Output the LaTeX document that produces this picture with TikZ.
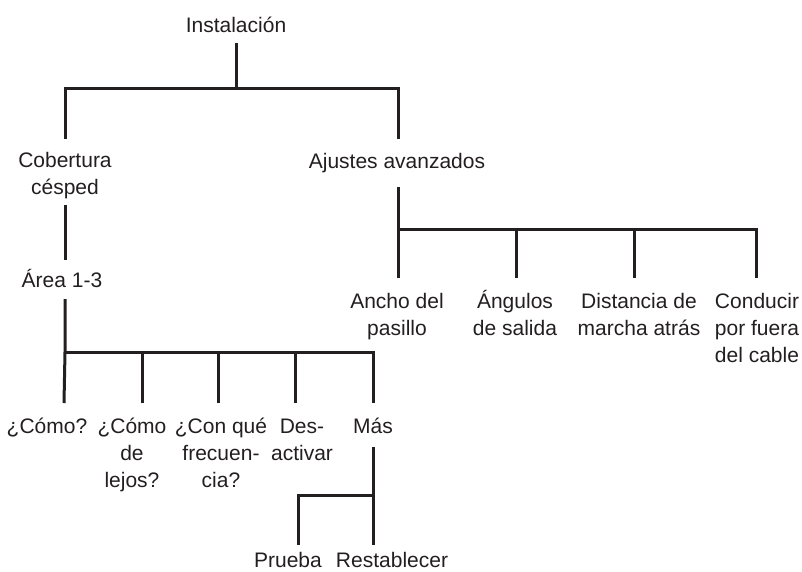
\documentclass[tikz,border=0pt]{standalone}
\usepackage{fontspec}
\setmainfont{Liberation Sans}
\definecolor{ink}{HTML}{231F20}
\begin{document}
\begin{tikzpicture}[x=1pt,y=-1pt,
  lbl/.style={anchor=base,align=center,inner sep=0pt,text=ink,
    font=\fontsize{21}{27}\selectfont},
  conn/.style={draw=ink,line width=3pt,line cap=butt}]
\useasboundingbox (0,0) rectangle (802,571);
% text nodes (anchor = baseline of the last line)
\node[lbl] (inst) at (236,32) {Instalación};
\node[lbl] (cob) at (65,194) {Cobertura\\césped};
\node[lbl] (aju) at (397,168) {Ajustes avanzados};
\node[lbl] (area) at (62,287) {Área 1-3};
\node[lbl] (anc) at (397,335) {Ancho del\\pasillo};
\node[lbl] (ang) at (515,335) {Ángulos\\de salida};
\node[lbl] (dis) at (639,335) {Distancia de\\marcha atrás};
\node[lbl] (con) at (757,362) {Conducir\\por fuera\\del cable};
\node[lbl] (como) at (47,433) {¿Cómo?};
\node[lbl] (lejos) at (132,487) {¿Cómo\\de\\lejos?};
\node[lbl] (frec) at (221,487) {¿Con qué\\frecuen-\\cia?};
\node[lbl] (des) at (302,460) {Des-\\activar};
\node[lbl] (mas) at (373,433) {Más};
\node[lbl] (pru) at (288,567) {Prueba};
\node[lbl] (res) at (392,567) {Restablecer};
% connector end points
\coordinate (instB) at (236,43);
\coordinate (j1) at (236,88);
\coordinate (cobT) at (65,139);
\coordinate (ajuT) at (398,139);
\coordinate (cobB) at (65,205);
\coordinate (areaT) at (65,260);
\coordinate (areaB) at (65,299);
\coordinate (j2) at (65,352);
\coordinate (t1) at (64,403);
\coordinate (t2) at (142,403);
\coordinate (t3) at (218,403);
\coordinate (t4) at (295,403);
\coordinate (t5) at (373,403);
\coordinate (ajuB) at (398,187);
\coordinate (j3) at (398,229);
\coordinate (u1) at (398,278);
\coordinate (u2) at (516,278);
\coordinate (u3) at (634,278);
\coordinate (u4) at (756,278);
\coordinate (masB) at (373,447);
\coordinate (j4) at (373,495);
\coordinate (p1) at (298,545);
\coordinate (p2) at (373,545);
% connectors
\draw[conn] (instB) -- (j1);
\draw[conn] (cobT) |- (j1) -| (ajuT);
\draw[conn] (cobB) -- (areaT);
\draw[conn] (areaB) -- (j2) -- (t1);
\draw[conn] (j2) -| (t5);
\draw[conn] (t2) -- (t2 |- j2);
\draw[conn] (t3) -- (t3 |- j2);
\draw[conn] (t4) -- (t4 |- j2);
\draw[conn] (ajuB) -- (j3) -- (u1);
\draw[conn] (j3) -| (u4);
\draw[conn] (u2) -- (u2 |- j3);
\draw[conn] (u3) -- (u3 |- j3);
\draw[conn] (masB) -- (p2);
\draw[conn] (j4) -| (p1);
\end{tikzpicture}
\end{document}
